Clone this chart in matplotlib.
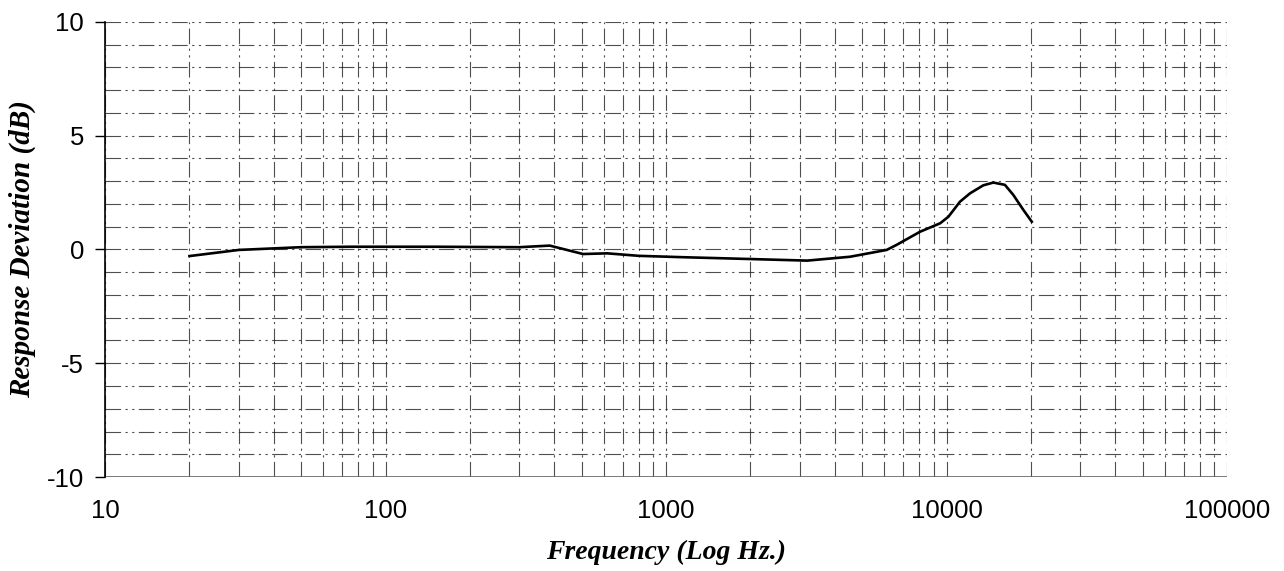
import matplotlib
matplotlib.use("Agg")
import matplotlib.pyplot as plt
from matplotlib.ticker import FixedLocator, NullFormatter
import numpy as np

freq_hz = [20, 30, 50, 75, 150, 300, 385, 506, 617, 800, 1148, 1995, 3186, 4530,
           6120, 6634, 8050, 9490, 10160, 11170, 12140, 13530, 14690, 16150, 17300, 18790, 20140]
deviation_db = [-0.29, -0.02, 0.10, 0.12, 0.12, 0.10, 0.17, -0.20, -0.17, -0.28, -0.34, -0.42, -0.49, -0.32,
                -0.02, 0.20, 0.78, 1.15, 1.44, 2.10, 2.47, 2.82, 2.94, 2.84, 2.40, 1.74, 1.22]

x_ticks = [10, 100, 1000, 10000, 100000]
x_tick_labels = ["10", "100", "1000", "10000", "100000"]
y_ticks = [-10, -5, 0, 5, 10]
y_tick_labels = ["-10", "-5", "0", "5", "10"]

fig = plt.figure(figsize=(12.84, 5.71), dpi=100)
ax = fig.add_axes([0.0818, 0.1646, 0.8738, 0.797])
ax.set_xscale("log")
ax.set_xlim(10, 100000)
ax.set_ylim(-10, 10)

minor_x = [m * 10 ** e for e in range(1, 5) for m in range(2, 10)]
ax.xaxis.set_major_locator(FixedLocator(x_ticks))
ax.xaxis.set_minor_locator(FixedLocator(minor_x))
ax.xaxis.set_minor_formatter(NullFormatter())
ax.set_xticklabels(x_tick_labels)
ax.yaxis.set_major_locator(FixedLocator(y_ticks))
ax.yaxis.set_minor_locator(FixedLocator(list(range(-9, 10))))
ax.set_yticklabels(y_tick_labels)

ax.grid(True, which="both", axis="both", color="#222222", linewidth=0.8,
        linestyle=(0, (14, 4, 2, 4, 2, 4)), alpha=0.8)

ax.plot(freq_hz, deviation_db, color="black", linewidth=1.9, zorder=3)

for s in ["top", "right", "bottom"]:
    ax.spines[s].set_visible(False)
ax.spines["left"].set_color("black")
ax.spines["left"].set_linewidth(1.2)
ax.axhline(-10, color="#666666", linewidth=1.2, zorder=2)

ax.tick_params(axis="y", which="major", length=7, width=1, direction="out", pad=8,
               labelsize=18.5)
ax.tick_params(axis="y", which="minor", length=0)
ax.tick_params(axis="x", which="both", length=0, pad=16, labelsize=18.5)
for lab in ax.get_xticklabels() + ax.get_yticklabels():
    lab.set_fontfamily("Liberation Sans")

ax.set_xlabel("Frequency (Log Hz.)", fontfamily="Liberation Serif", fontweight="bold",
              fontstyle="italic", fontsize=20, labelpad=14)
ax.set_ylabel("Response Deviation (dB)", fontfamily="Liberation Serif", fontweight="bold",
              fontstyle="italic", fontsize=21, labelpad=10)
ax.xaxis.set_label_coords(0.5, (1 - 552 / 571 - 0.1646) / 0.797, transform=ax.transAxes)
ax.xaxis.label.set_va("center")
ax.yaxis.set_label_coords((22 / 1284 - 0.0818) / 0.8738, 0.5, transform=ax.transAxes)
ax.yaxis.label.set_va("center")

fig.savefig("out.png", dpi=100, facecolor="white")
